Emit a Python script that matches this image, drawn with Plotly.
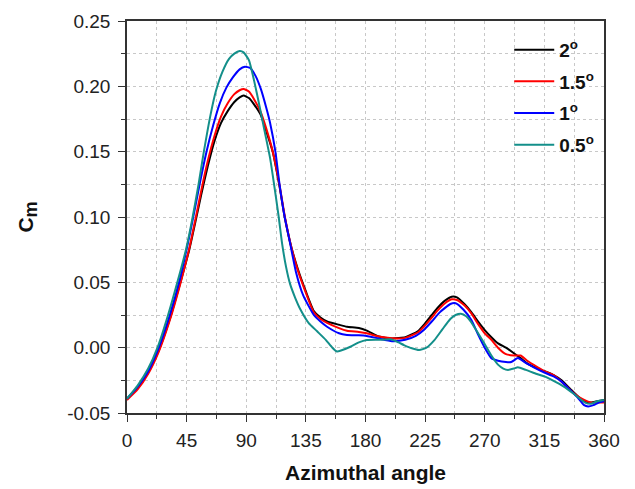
import plotly.graph_objects as go

# ---- data ----
angle_2 = [0, 8, 16, 24, 32, 40, 47, 52, 56, 61, 66, 71, 76, 81, 85, 88, 92, 96, 101, 105, 110, 115, 119, 124, 129, 135, 141, 146, 151, 160, 166, 175, 181, 190, 200, 210, 214, 220, 224, 230, 234, 240, 245, 249, 255, 260, 265, 270, 275, 280, 286, 292, 297, 302, 310, 315, 322, 328, 334, 340, 345, 350, 355, 360]
cm_2 = [-0.039, -0.031, -0.019, -0.002, 0.021, 0.049, 0.075, 0.098, 0.117, 0.139, 0.158, 0.172, 0.181, 0.188, 0.1915, 0.193, 0.191, 0.186, 0.178, 0.166, 0.150, 0.124, 0.100, 0.077, 0.060, 0.043, 0.028, 0.023, 0.020, 0.0175, 0.016, 0.015, 0.013, 0.0085, 0.007, 0.008, 0.0097, 0.013, 0.0174, 0.025, 0.030, 0.036, 0.039, 0.0385, 0.033, 0.027, 0.020, 0.0135, 0.008, 0.0033, 0.000, -0.0043, -0.008, -0.012, -0.016, -0.018, -0.021, -0.025, -0.031, -0.037, -0.041, -0.042, -0.041, -0.040]

angle_15 = [0, 8, 16, 24, 32, 40, 47, 52, 56, 61, 66, 71, 76, 81, 85, 88, 92, 96, 101, 105, 110, 115, 119, 124, 129, 135, 141, 146, 151, 160, 166, 175, 181, 190, 200, 210, 214, 220, 224, 230, 234, 240, 245, 249, 255, 260, 265, 270, 275, 280, 286, 292, 297, 302, 310, 315, 322, 328, 334, 340, 345, 350, 355, 360]
cm_15 = [-0.040, -0.032, -0.020, -0.003, 0.020, 0.048, 0.076, 0.100, 0.120, 0.143, 0.162, 0.177, 0.187, 0.194, 0.197, 0.198, 0.196, 0.190, 0.180, 0.168, 0.150, 0.125, 0.101, 0.077, 0.059, 0.042, 0.027, 0.022, 0.019, 0.015, 0.013, 0.012, 0.011, 0.0085, 0.0072, 0.0075, 0.009, 0.012, 0.016, 0.023, 0.028, 0.034, 0.037, 0.0365, 0.032, 0.026, 0.018, 0.011, 0.006, 0.000, -0.005, -0.006, -0.006, -0.010, -0.015, -0.018, -0.021, -0.026, -0.032, -0.037, -0.040, -0.042, -0.042, -0.042]

angle_1 = [0, 8, 16, 24, 32, 40, 46, 50, 55, 60, 65, 70, 75, 80, 85, 89, 93, 97, 101, 105, 108, 112, 115, 119, 122.5, 127.5, 133, 141, 146, 151, 160, 166, 175, 181, 190, 200, 210, 218, 224, 230, 236, 244, 248, 254, 260, 265, 270, 275, 280, 286, 290, 295, 300, 307, 315, 322, 328, 334, 340, 345, 348, 352, 356, 360]
cm_1 = [-0.039, -0.030, -0.018, 0.000, 0.024, 0.053, 0.080, 0.100, 0.126, 0.150, 0.170, 0.187, 0.199, 0.207, 0.213, 0.215, 0.214, 0.208, 0.198, 0.184, 0.172, 0.150, 0.126, 0.100, 0.083, 0.058, 0.040, 0.025, 0.020, 0.016, 0.011, 0.0097, 0.0095, 0.009, 0.007, 0.005, 0.006, 0.009, 0.0135, 0.020, 0.027, 0.0334, 0.034, 0.029, 0.021, 0.010, 0.000, -0.008, -0.010, -0.011, -0.011, -0.008, -0.011, -0.015, -0.019, -0.022, -0.026, -0.032, -0.038, -0.044, -0.045, -0.044, -0.042, -0.041]

angle_05 = [0, 8, 16, 23, 31, 38, 44.5, 49, 54, 58, 63, 67, 72, 77, 81, 85, 88, 92, 96, 100, 104, 108, 111, 114.5, 117, 120, 123, 127, 131, 137, 143.5, 150, 155, 158.5, 162, 168.6, 175, 181, 190, 199, 205, 209, 215, 220.5, 226, 232, 238, 244, 248, 252, 256, 259.5, 265, 269.6, 275, 280, 284, 287.6, 292, 295, 301, 307.8, 315, 320.5, 330, 338, 345.7, 350, 355, 360]
cm_05 = [-0.039, -0.029, -0.016, 0.000, 0.025, 0.050, 0.075, 0.097, 0.125, 0.150, 0.178, 0.196, 0.211, 0.221, 0.225, 0.227, 0.226, 0.220, 0.204, 0.185, 0.165, 0.145, 0.125, 0.100, 0.080, 0.062, 0.049, 0.038, 0.029, 0.019, 0.0125, 0.006, 0.000, -0.003, -0.002, 0.0007, 0.004, 0.0058, 0.006, 0.0064, 0.004, 0.002, -0.0005, -0.0018, 0.000, 0.0058, 0.014, 0.022, 0.025, 0.026, 0.024, 0.020, 0.011, 0.0033, -0.006, -0.013, -0.016, -0.017, -0.016, -0.015, -0.017, -0.0196, -0.022, -0.0247, -0.030, -0.036, -0.042, -0.043, -0.041, -0.040]

series_names = ["2<sup>o</sup>", "1.5<sup>o</sup>", "1<sup>o</sup>", "0.5<sup>o</sup>"]
series_colors = ["#000000", "#ff0000", "#0000ff", "#138f8a"]
series_x = [angle_2, angle_15, angle_1, angle_05]
series_y = [cm_2, cm_15, cm_1, cm_05]

x_ticks = [0, 45, 90, 135, 180, 225, 270, 315, 360]
y_ticks = [-0.05, 0.00, 0.05, 0.10, 0.15, 0.20, 0.25]

FONT = "Arial, Liberation Sans, sans-serif"

fig = go.Figure()
for i, (nm, col, xs, ys) in enumerate(zip(series_names, series_colors, series_x, series_y)):
    fig.add_trace(go.Scatter(
        x=xs, y=ys, mode="lines", name=f"<b>{nm}</b>",
        line=dict(color=col, width=2, shape="spline", smoothing=0.5),
        legendgroup=f"g{i}",
    ))

axis_common = dict(
    showline=True, linecolor="#333333", linewidth=1.5, mirror=True,
    ticks="outside", ticklen=7, tickwidth=1.2, tickcolor="#333333",
    showgrid=True, gridcolor="#c8c8c8", griddash="dot", gridwidth=1,
    zeroline=False, automargin=False,
    tickfont=dict(family=FONT, size=19, color="#222222"),
)

fig.update_xaxes(
    range=[0, 360], tickvals=x_ticks, ticktext=[str(v) for v in x_ticks],
    minor=dict(dtick=22.5, tick0=0, ticks="outside", ticklen=4, tickcolor="#333333",
               showgrid=True, gridcolor="#c8c8c8", griddash="dot"),
    title=dict(text="<b>Azimuthal angle</b>", font=dict(family=FONT, size=21, color="#111111"), standoff=16),
    ticklabelstandoff=2,
    **axis_common,
)
fig.update_yaxes(
    range=[-0.05, 0.25], tickvals=y_ticks, ticktext=[f"{v:.2f}" for v in y_ticks],
    minor=dict(dtick=0.025, tick0=0, ticks="outside", ticklen=4, tickcolor="#333333",
               showgrid=True, gridcolor="#c8c8c8", griddash="dot"),
    title=dict(text="<b>C<sub><span style='font-size:18px'>m</span></sub></b>",
               font=dict(family=FONT, size=21, color="#111111"), standoff=28),
    ticklabelstandoff=4,
    **axis_common,
)

fig.update_layout(
    width=635, height=489,
    margin=dict(l=127, r=31, t=21, b=76),
    paper_bgcolor="white", plot_bgcolor="white",
    font=dict(family=FONT),
    showlegend=True,
    legend=dict(
        x=0.99, y=0.975, xanchor="right", yanchor="top",
        bgcolor="rgba(0,0,0,0)", borderwidth=0,
        font=dict(family=FONT, size=19, color="#111111"),
        tracegroupgap=4, itemwidth=40,
    ),
)

fig.write_html("out.html")
